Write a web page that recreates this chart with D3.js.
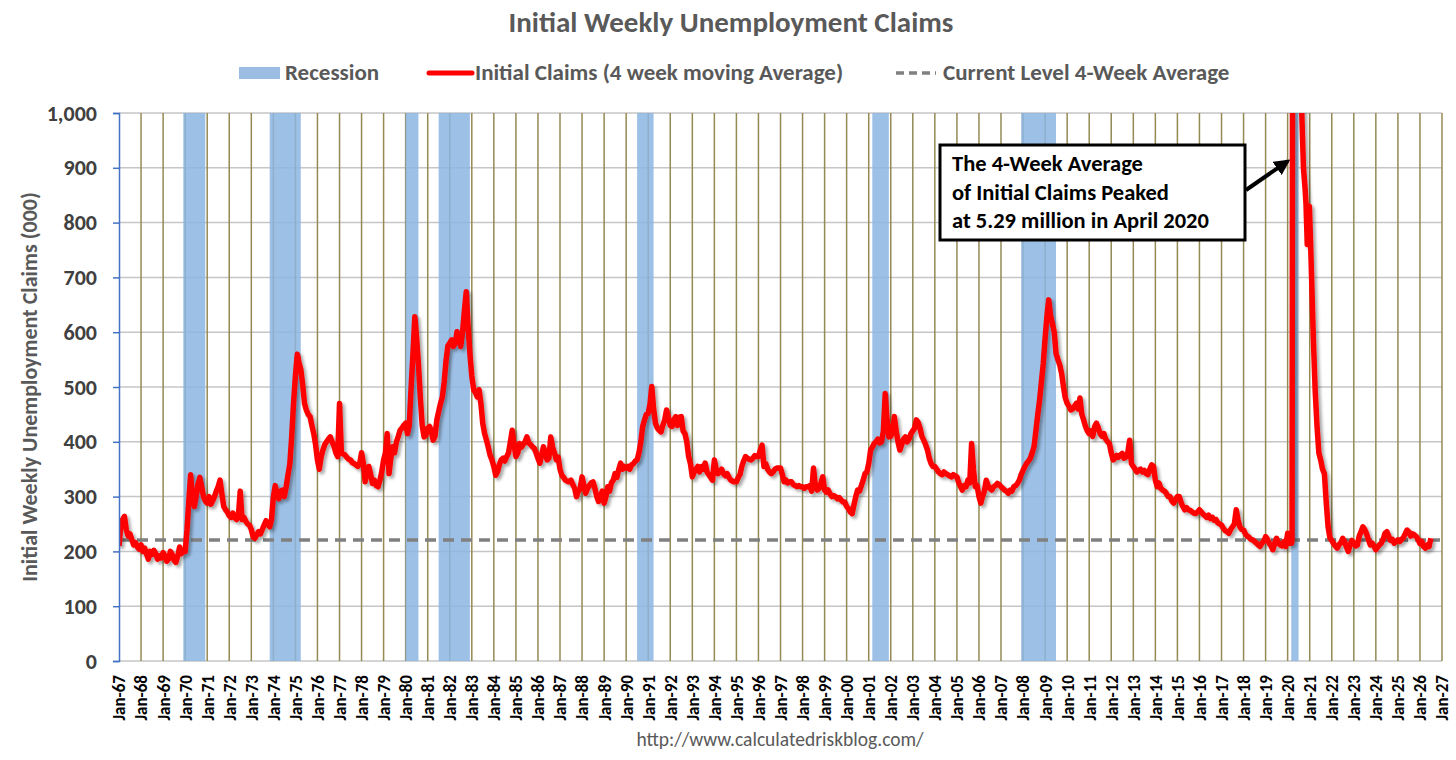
<!DOCTYPE html>
<html>
<head>
<meta charset="utf-8">
<script src="https://cdn.jsdelivr.net/npm/d3@7"></script>
<style>
  body { margin: 0; background: #fff; }
  svg text { font-family: Carlito, Lato, "Open Sans", sans-serif; }
</style>
</head>
<body>
<div id="chart"></div>
<script>
// Monthly 4-week average of initial claims (thousands)
const claims1960s = [
  210, 248, 258, 264, 240, 228, 232, 222, 212, 216, 208, 204,
  212, 200, 206, 195, 186, 200, 194, 202, 196, 186, 192, 188,
  198, 192, 182, 186, 200, 194, 184, 180, 192, 208, 196, 200
];
const claims1970s = [
  200, 240, 290, 340, 300, 282, 300, 322, 335, 318, 300, 292,
  288, 300, 286, 292, 300, 310, 318, 330, 305, 282, 276, 272,
  265, 262, 270, 262, 258, 265, 310, 258, 262, 255, 250, 248,
  240, 226, 224, 230, 236, 232, 240, 248, 256, 250, 245, 258,
  300, 320, 305, 296, 310, 312, 300, 318, 340, 360, 410, 470,
  520, 560, 545, 532, 505, 470, 458, 450, 446, 430, 415, 395,
  367, 350, 372, 385, 395, 400, 405, 409, 400, 392, 380, 373,
  470, 380, 378, 376, 372, 368, 367, 362, 360, 358, 355, 360,
  380, 360, 327, 345, 355, 340, 324, 330, 320, 318, 330, 345,
  367, 380, 415, 342, 370, 391, 380, 400, 410, 421, 425, 430
];
const claims1980s = [
  434, 415, 430, 500, 560, 628, 590, 540, 480, 430, 409, 412,
  425, 428, 420, 403, 410, 440, 455, 470, 482, 510, 549, 575,
  580, 586, 574, 580, 601, 590, 574, 600, 640, 674, 610, 560,
  520, 495, 490, 482, 495, 470, 434, 415, 403, 390, 375, 367,
  355, 339, 345, 358, 367, 370, 365, 373, 380, 400, 421, 395,
  373, 380, 397, 390, 395, 400, 409, 398, 395, 391, 388, 380,
  370, 361, 375, 391, 380, 367, 370, 409, 390, 380, 367, 372,
  350, 339, 335, 330, 328, 327, 330, 322, 315, 300, 310, 315,
  336, 320, 306, 315, 320, 325, 327, 315, 300, 291, 300, 310,
  288, 300, 318, 310, 325, 330, 342, 335, 350, 361, 350, 355
];
const claims1990s = [
  352, 355, 350, 358, 360, 365, 367, 380, 400, 428, 440, 450,
  452, 470, 501, 460, 434, 425, 421, 418, 430, 440, 458, 445,
  430, 428, 440, 446, 430, 445, 446, 420, 415, 400, 373, 360,
  336, 345, 350, 355, 345, 355, 350, 361, 345, 340, 335, 330,
  367, 350, 342, 345, 350, 342, 338, 342, 335, 330, 328, 327,
  327, 335, 340, 355, 365, 373, 370, 368, 367, 370, 375, 373,
  373, 385, 394, 355, 360, 350, 345, 342, 345, 350, 352, 352,
  352, 340, 327, 330, 325, 327, 327, 322, 320, 318, 320, 318,
  318, 315, 318, 318, 320, 310, 352, 320, 312, 315, 325, 336,
  312, 308, 312, 305, 300, 302, 300, 296, 298, 294, 290, 290
];
const claims2000s = [
  282, 278, 272, 269, 285, 300, 312, 310, 320, 330, 342, 345,
  360, 385, 390, 397, 400, 405, 398, 400, 420, 488, 440, 409,
  410, 420, 446, 420, 400, 385, 395, 405, 409, 400, 405, 415,
  420, 425, 440, 435, 425, 410, 403, 395, 385, 370, 360, 355,
  355, 350, 345, 342, 340, 345, 342, 340, 338, 336, 340, 338,
  336, 325, 318, 312, 320, 318, 330, 325, 397, 350, 318, 320,
  300, 288, 300, 310, 330, 320, 315, 312, 318, 320, 324, 322,
  318, 315, 312, 310, 306, 312, 310, 318, 320, 324, 330, 340,
  348, 355, 361, 365, 370, 380, 391, 420, 450, 476, 510, 543,
  590, 630, 659, 630, 616, 600, 561, 550, 540, 525, 500, 480
];
const claims2010s = [
  470, 465, 458, 460, 465, 470, 460, 480, 450, 440, 428, 420,
  415, 420, 410, 428, 434, 425, 415, 410, 415, 405, 400, 397,
  380, 367, 370, 375, 372, 376, 379, 370, 372, 380, 403, 360,
  355, 350, 345, 348, 350, 345, 348, 342, 340, 350, 358, 355,
  330, 318, 325, 315, 312, 310, 306, 300, 300, 292, 288, 295,
  300, 300, 290, 282, 276, 280, 276, 275, 272, 270, 269, 272,
  276, 272, 268, 265, 262, 266, 260, 262, 257, 258, 252, 250,
  248, 242, 238, 236, 233, 240, 245, 250, 276, 258, 245, 240,
  239, 232, 228, 226, 222, 221, 218, 215, 212, 209, 215, 218,
  227, 222, 215, 210, 203, 215, 224, 215, 212, 210, 218, 209,
  233, 215
];
// weekly values around the 2020 spike
const covidWeeks = [
  "2020-03-07", "2020-03-14", "2020-03-21", "2020-03-28", "2020-04-04",
  "2020-04-11", "2020-04-18", "2020-04-25", "2020-05-09", "2020-05-30",
  "2020-06-27", "2020-07-25", "2020-08-22", "2020-09-19", "2020-10-17",
  "2020-10-31", "2020-11-21", "2020-12-05", "2020-12-26", "2021-01-16"
];
const covidClaims = [
  215, 225, 1002, 2667, 4265, 5290, 5033, 4510, 3500, 2400,
  1550, 1300, 1000, 900, 860, 835, 760, 820, 830, 760
];
const claims2020s = [
  700, 590, 494, 430, 380, 367, 350, 342, 290, 245, 225,
  220, 214, 210, 206, 212, 216, 224, 218, 208, 200, 212, 220,
  215, 210, 212, 228, 236, 245, 240, 232, 221, 212, 215, 210,
  203, 208, 212, 215, 222, 233, 236, 228, 220, 222, 215, 218,
  221, 218, 222, 225, 232, 239, 236, 228, 232, 230, 227, 222,
  214, 218, 209, 206, 212, 209, 224
];
const currentLevel = 221;

const recessions = [
  ["1969-12-01", "1970-11-30"],
  ["1973-11-01", "1975-03-31"],
  ["1980-01-01", "1980-07-31"],
  ["1981-07-01", "1982-11-30"],
  ["1990-07-01", "1991-03-31"],
  ["2001-03-01", "2001-11-30"],
  ["2007-12-01", "2009-06-30"],
  ["2020-03-01", "2020-06-30"]
];

const yTicks = [0, 100, 200, 300, 400, 500, 600, 700, 800, 900, 1000];
const xTickYears = d3.range(1967, 2028);

const parseDate = d3.timeParse("%Y-%m-%d");

// build one series from the monthly blocks and the weekly spike
function monthly(start, values) {
  const s = parseDate(start);
  return values.map((v, i) => ({date: d3.timeMonth.offset(s, i), value: v}));
}
const series = [].concat(
  monthly("1967-01-01", claims1960s),
  monthly("1970-01-01", claims1970s),
  monthly("1980-01-01", claims1980s),
  monthly("1990-01-01", claims1990s),
  monthly("2000-01-01", claims2000s),
  monthly("2010-01-01", claims2010s),
  covidWeeks.map((d, i) => ({date: parseDate(d), value: covidClaims[i]})),
  monthly("2021-02-01", claims2020s)
);

const W = 1456, H = 760;
const margin = {top: 113, right: 14, bottom: 99, left: 119};

const svg = d3.select("#chart").append("svg")
  .attr("width", W)
  .attr("height", H);

const defs = svg.append("defs");
defs.append("clipPath").attr("id", "plotClip")
  .append("rect")
  .attr("x", margin.left).attr("y", margin.top)
  .attr("width", W - margin.left - margin.right)
  .attr("height", H - margin.top - margin.bottom + 5);

const shadow = defs.append("filter").attr("id", "shadow")
  .attr("x", "-5%").attr("y", "-5%").attr("width", "110%").attr("height", "110%");
shadow.append("feDropShadow")
  .attr("dx", 2.5).attr("dy", 2.5).attr("stdDeviation", 1.6)
  .attr("flood-color", "#000").attr("flood-opacity", 0.35);

defs.append("marker").attr("id", "arrow")
  .attr("viewBox", "0 0 10 10").attr("refX", 8).attr("refY", 5)
  .attr("markerWidth", 4).attr("markerHeight", 4).attr("orient", "auto")
  .append("path").attr("d", "M0,0 L10,5 L0,10 z").attr("fill", "#000");

// scales
const x = d3.scaleTime()
  .domain([new Date(1967, 0, 1), new Date(2027, 0, 1)])
  .range([margin.left, W - margin.right]);

const y = d3.scaleLinear()
  .domain([0, 1000])
  .range([H - margin.bottom, margin.top]);

// horizontal gridlines
svg.append("g")
  .selectAll("line")
  .data(yTicks)
  .join("line")
  .attr("x1", margin.left).attr("x2", W - margin.right)
  .attr("y1", d => y(d)).attr("y2", d => y(d))
  .attr("stroke", "#c6c6c6").attr("stroke-width", 1.5);

// vertical gridlines, one per January
svg.append("g")
  .selectAll("line")
  .data(xTickYears.slice(1))
  .join("line")
  .attr("x1", d => x(new Date(d, 0, 1))).attr("x2", d => x(new Date(d, 0, 1)))
  .attr("y1", y(1000)).attr("y2", y(0))
  .attr("stroke", "#948a54").attr("stroke-width", 1.5);

// recession bars
svg.append("g")
  .selectAll("rect")
  .data(recessions)
  .join("rect")
  .attr("x", d => x(parseDate(d[0])))
  .attr("width", d => x(parseDate(d[1])) - x(parseDate(d[0])))
  .attr("y", y(1000))
  .attr("height", y(0) - y(1000))
  .attr("fill", "#8cb5e2")
  .attr("fill-opacity", 0.85);

// current level dashed line
svg.append("line")
  .attr("x1", margin.left).attr("x2", W - margin.right - 2)
  .attr("y1", y(currentLevel)).attr("y2", y(currentLevel))
  .attr("stroke", "#808080")
  .attr("stroke-width", 3.5)
  .attr("stroke-dasharray", "11,7");

// claims line
const line = d3.line()
  .x(d => x(d.date))
  .y(d => y(d.value));

svg.append("g")
  .attr("clip-path", "url(#plotClip)")
  .append("path")
  .datum(series)
  .attr("fill", "none")
  .attr("stroke", "#ff0000")
  .attr("stroke-width", 5.5)
  .attr("stroke-linejoin", "round")
  .attr("filter", "url(#shadow)")
  .attr("d", line);

// y axis
const yAxis = svg.append("g")
  .attr("transform", `translate(${margin.left},0)`)
  .call(d3.axisLeft(y).tickValues(yTicks).tickFormat(d3.format(",")).tickSize(6).tickPadding(16));
yAxis.select(".domain").attr("stroke", "#4472c4").attr("stroke-width", 1.5);
yAxis.selectAll(".tick line").attr("stroke", "#4472c4").attr("stroke-width", 1.5);
yAxis.selectAll("text")
  .attr("fill", "#404040")
  .style("font-size", "22px")
  .style("font-weight", "bold");

// x axis
const xAxis = svg.append("g")
  .attr("transform", `translate(0,${y(0)})`)
  .call(d3.axisBottom(x)
    .tickValues(xTickYears.map(yr => new Date(yr, 0, 1)))
    .tickFormat(d3.timeFormat("Jan-%y"))
    .tickSize(0));
xAxis.select(".domain").remove();
xAxis.selectAll("text")
  .attr("transform", "rotate(-90)")
  .attr("text-anchor", "end")
  .attr("x", -14)
  .attr("y", 0)
  .attr("dy", "0.35em")
  .attr("fill", "#000")
  .style("font-size", "17px")
  .style("font-weight", "bold");

// y axis label
svg.append("text")
  .attr("transform", `translate(37,${(y(0) + y(1000)) / 2}) rotate(-90)`)
  .attr("text-anchor", "middle")
  .attr("fill", "#595959")
  .style("font-size", "22px")
  .style("font-weight", "bold")
  .text("Initial Weekly Unemployment Claims (000)");

// title
svg.append("text")
  .attr("x", 731).attr("y", 32)
  .attr("text-anchor", "middle")
  .attr("fill", "#595959")
  .style("font-size", "29px")
  .style("font-weight", "bold")
  .text("Initial Weekly Unemployment Claims");

// legend
const legend = svg.append("g").style("font-size", "23px").style("font-weight", "bold");
legend.append("rect").attr("x", 239).attr("y", 67).attr("width", 41).attr("height", 12).attr("fill", "#9bbde4");
legend.append("text").attr("x", 285).attr("y", 80).attr("fill", "#595959").text("Recession");
legend.append("line").attr("x1", 429).attr("x2", 472).attr("y1", 73).attr("y2", 73)
  .attr("stroke", "#ff0000").attr("stroke-width", 5).attr("stroke-linecap", "round");
legend.append("text").attr("x", 475).attr("y", 80).attr("fill", "#595959").text("Initial Claims (4 week moving Average)");
legend.append("line").attr("x1", 896).attr("x2", 936).attr("y1", 73).attr("y2", 73)
  .attr("stroke", "#808080").attr("stroke-width", 3.5).attr("stroke-dasharray", "8,5");
legend.append("text").attr("x", 943).attr("y", 80).attr("fill", "#595959").text("Current Level 4-Week Average");

// annotation box and arrow
const note = svg.append("g");
note.append("rect")
  .attr("x", 940).attr("y", 145).attr("width", 305).attr("height", 95)
  .attr("fill", "#fff").attr("stroke", "#000").attr("stroke-width", 3);
["The 4-Week Average", "of Initial Claims Peaked", "at 5.29 million in April 2020"].forEach((t, i) => {
  note.append("text")
    .attr("x", 952).attr("y", 171 + i * 28.5)
    .attr("fill", "#000")
    .style("font-size", "22.5px")
    .style("font-weight", "bold")
    .text(t);
});
note.append("line")
  .attr("x1", 1246).attr("y1", 190)
  .attr("x2", x(new Date(2020, 0, 1))).attr("y2", y(912))
  .attr("stroke", "#000").attr("stroke-width", 4)
  .attr("marker-end", "url(#arrow)");

// source
svg.append("text")
  .attr("x", 780).attr("y", 746)
  .attr("text-anchor", "middle")
  .attr("fill", "#595959")
  .style("font-size", "19.5px")
  .text("http://www.calculatedriskblog.com/");
</script>
</body>
</html>
